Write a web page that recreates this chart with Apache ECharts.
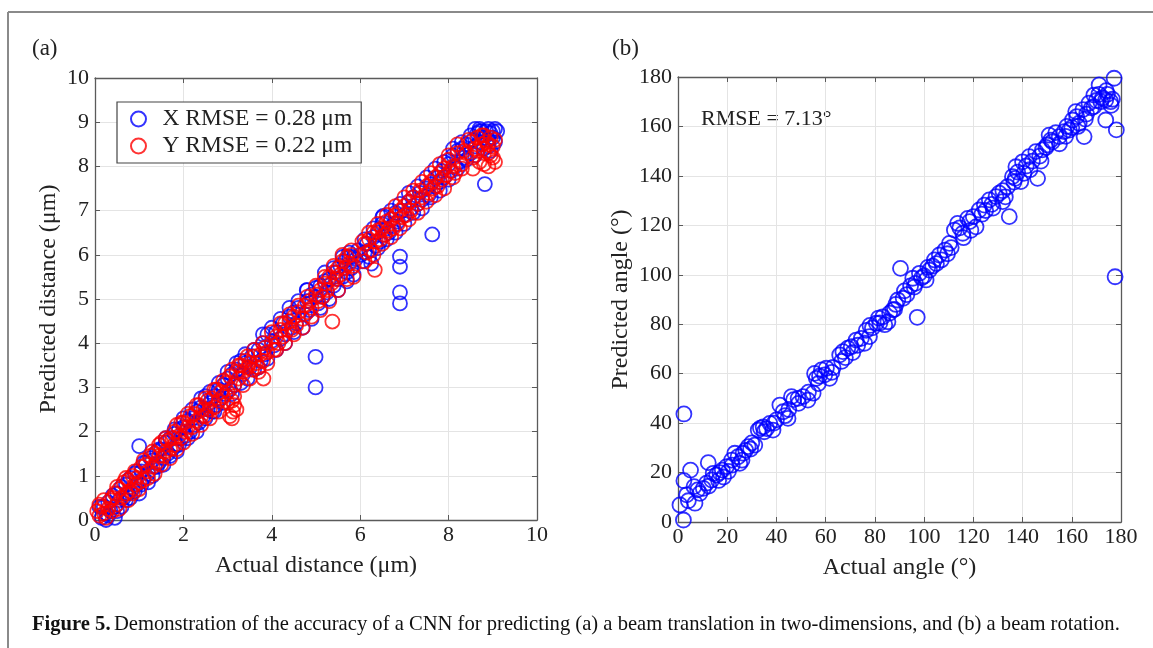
<!DOCTYPE html>
<html>
<head>
<meta charset="utf-8">
<script src="https://cdn.jsdelivr.net/npm/echarts@6/dist/echarts.min.js"></script>
<style>
html,body{margin:0;padding:0;background:#fff;}
#chart{width:1153px;height:648px;}
</style>
</head>
<body>
<div id="chart"></div>
<script>
// ---- Panel (a): actual vs predicted distance (µm) ----
const distX = [
[0.15,0.05],[0.2,0.3],[0.25,0.15],[0.3,0.4],[0.35,0.2],[0.4,0.55],[0.45,0.3],[0.5,0.6],[0.55,0.45],[0.6,0.75],[0.65,0.5],[0.7,0.8],[0.75,0.6],[0.8,0.95],[0.85,0.7],[0.9,1.05],[0.95,0.8],[1.0,1.67],[1.0,0.6],[1.05,1.1],[1.1,0.95],[1.15,1.3],[1.2,1.05],[1.3,1.35],[1.35,1.2],[1.4,1.55],[1.45,1.3],[1.5,1.6],[1.55,1.4],[1.6,1.75],[1.65,1.5],[1.7,1.85],[1.75,1.6],[1.8,1.95],[1.85,1.7],[1.9,2.05],[1.95,1.85],[2.0,2.1],[2.05,1.9],[2.1,2.25],[2.15,2.0],[2.2,2.3],[2.25,2.15],[2.3,2.45],[2.35,2.2],[2.4,2.55],[2.45,2.35],[2.5,2.8],[2.55,2.5],[2.6,2.65],[2.65,2.45],[2.7,2.8],[2.75,2.6],[2.8,2.95],[2.85,2.75],[2.9,3.05],[2.95,2.85],[3.0,3.2],[3.05,2.95],[3.1,3.3],[3.15,3.05],[3.2,3.4],[3.3,3.6],[3.35,3.3],[3.4,3.55],[3.5,3.45],[3.55,3.7],[3.6,3.4],[3.7,3.85],[3.75,3.6],[3.8,4.0],[3.85,3.75],[3.9,4.2],[4.0,4.05],[4.05,3.95],[4.1,4.25],[4.2,4.1],[4.25,4.45],[4.3,4.2],[4.4,4.6],[4.45,4.35],[4.5,4.7],[4.55,4.45],[4.6,4.8],[4.79,5.2],[4.75,4.65],[4.8,4.95],[4.85,4.75],[4.9,5.1],[4.99,3.69],[4.99,3.0],[5.0,5.05],[5.05,4.9],[5.1,5.3],[5.15,5.05],[5.2,5.4],[5.25,5.15],[5.3,5.45],[5.4,5.3],[5.45,5.6],[5.5,5.45],[5.55,5.75],[5.6,5.5],[5.65,5.85],[5.7,5.6],[5.75,5.95],[5.8,5.7],[5.85,5.95],[5.9,5.9],[6.0,6.0],[6.1,6.05],[6.15,6.25],[6.2,5.95],[6.3,6.4],[6.35,6.2],[6.4,6.5],[6.45,6.3],[6.5,6.7],[6.52,6.88],[6.55,6.45],[6.6,6.6],[6.65,6.5],[6.7,6.8],[6.75,6.65],[6.8,6.95],[6.85,6.75],[6.9,5.96],[6.9,5.73],[6.9,5.15],[6.9,4.9],[6.95,7.0],[7.0,6.9],[7.1,7.2],[7.15,7.05],[7.2,7.3],[7.3,7.15],[7.35,7.4],[7.4,7.25],[7.5,7.5],[7.55,7.35],[7.63,6.46],[7.6,7.6],[7.7,7.55],[7.75,7.75],[7.8,7.65],[7.85,7.9],[7.9,7.75],[8.0,8.05],[8.05,7.9],[8.1,8.25],[8.15,8.0],[8.2,8.35],[8.25,8.1],[8.3,8.4],[8.35,8.2],[8.4,8.5],[8.5,8.3],[8.55,8.6],[8.6,8.45],[8.65,8.75],[8.7,8.55],[8.75,8.8],[8.8,8.65],[8.82,7.6],[8.85,8.8],[8.9,8.6],[8.95,8.75],[9.0,8.8],[9.05,8.55],[9.1,8.8],[8.9,8.45],[8.7,8.8],
[0.1,0.3],[0.25,0.0],[0.3,0.1],[0.45,0.05],[0.5,0.2],[0.6,0.3],[0.7,0.45],[0.75,0.9],[0.8,0.5],[0.9,0.65],[0.95,1.1],[1.05,0.8],[1.1,1.3],[1.2,0.85],[1.25,1.4],[1.3,1.0],[1.4,1.2],[1.45,1.6],[1.55,1.25],[1.6,1.85],[1.7,1.45],[1.8,2.05],[1.85,1.55],[1.9,1.7],[2.0,2.3],[2.1,1.85],[2.2,2.5],[2.3,2.0],[2.4,2.75],[2.5,2.3],[2.6,2.9],[2.7,2.45],[2.8,3.1],[2.9,2.65],[3.0,3.35],[3.1,2.85],[3.2,3.55],[3.3,3.1],[3.4,3.75],[3.45,3.2],[3.6,3.85],[3.7,3.45],[3.8,4.2],[3.9,3.65],[4.0,4.35],[4.1,3.85],[4.2,4.55],[4.3,4.0],[4.4,4.8],[4.5,4.25],[4.6,4.95],[4.7,4.35],[4.8,5.2],[4.9,4.55],[5.0,5.25],[5.1,4.8],[5.2,5.6],[5.3,5.0],[5.4,5.7],[5.5,5.2],[5.6,5.95],[5.7,5.4],[5.75,6.05],[5.85,5.55],[5.95,6.1],[6.05,5.85],[6.1,6.35],[6.2,6.1],[6.25,5.8],[6.3,6.6],[6.4,6.15],[6.5,6.85],[6.6,6.35],[6.7,7.0],[6.8,6.5],[6.9,7.15],[7.0,6.7],[7.1,7.4],[7.2,6.95],[7.3,7.55],[7.4,7.05],[7.5,7.75],[7.6,7.3],[7.7,7.95],[7.8,7.45],[7.9,8.1],[8.0,7.7],[8.1,8.4],[8.2,7.95],[8.3,8.55],[8.4,8.15],[8.5,8.7],[8.6,8.25],[8.7,8.85],[8.8,8.4],[8.9,8.85],[9.0,8.65],[9.05,8.85],[8.95,8.35],[8.6,8.85]
];
const distY = [
[0.05,0.2],[0.1,0.1],[0.15,0.3],[0.2,0.15],[0.3,0.25],[0.35,0.45],[0.4,0.2],[0.45,0.6],[0.5,0.35],[0.55,0.7],[0.6,0.5],[0.65,0.85],[0.7,0.6],[0.75,0.9],[0.8,0.65],[0.85,1.0],[0.9,0.8],[0.95,0.95],[1.0,0.85],[1.05,1.2],[1.1,0.9],[1.15,1.25],[1.2,1.1],[1.25,1.45],[1.3,1.2],[1.35,1.5],[1.4,1.3],[1.45,1.45],[1.5,1.75],[1.55,1.45],[1.6,1.55],[1.65,1.8],[1.7,1.6],[1.75,1.85],[1.8,1.7],[1.85,2.15],[1.9,1.9],[1.95,1.85],[2.0,2.2],[2.05,2.0],[2.1,2.1],[2.15,2.35],[2.2,2.1],[2.25,2.4],[2.3,2.25],[2.35,2.6],[2.4,2.35],[2.45,2.5],[2.5,2.35],[2.55,2.7],[2.6,2.5],[2.65,2.75],[2.7,2.55],[2.75,2.95],[2.8,2.7],[2.85,2.9],[2.9,2.8],[2.95,3.1],[3.0,2.9],[3.05,3.25],[3.1,2.3],[3.12,2.45],[3.15,2.6],[3.1,2.7],[3.05,2.35],[3.15,3.05],[3.2,3.35],[3.25,3.2],[3.3,3.5],[3.35,3.35],[3.4,3.6],[3.45,3.45],[3.5,3.55],[3.55,3.4],[3.6,3.7],[3.65,3.55],[3.7,3.35],[3.75,3.75],[3.8,3.6],[3.81,3.2],[3.85,3.9],[3.9,3.8],[4.0,4.0],[4.05,3.85],[4.1,4.15],[4.15,4.0],[4.2,4.3],[4.25,4.15],[4.3,4.45],[4.35,4.3],[4.4,4.5],[4.45,4.3],[4.5,4.6],[4.55,4.4],[4.6,4.7],[4.7,4.55],[4.75,4.85],[4.8,4.7],[4.85,4.95],[4.9,4.8],[5.0,5.1],[5.05,4.95],[5.1,5.2],[5.15,5.05],[5.2,5.35],[5.25,5.2],[5.3,5.5],[5.37,4.49],[5.35,5.35],[5.4,5.6],[5.45,5.45],[5.5,5.7],[5.55,5.55],[5.6,5.85],[5.65,5.7],[5.7,5.95],[5.75,5.8],[5.8,6.0],[5.85,5.75],[6.1,6.25],[6.15,6.05],[6.2,6.35],[6.25,6.1],[6.3,6.5],[6.33,5.66],[6.35,6.3],[6.4,6.55],[6.45,6.35],[6.5,6.6],[6.55,6.45],[6.6,6.75],[6.65,6.55],[6.7,6.8],[6.75,6.6],[6.8,6.9],[6.85,6.7],[6.9,7.0],[6.95,6.85],[7.0,7.1],[7.05,6.9],[7.1,7.2],[7.15,7.0],[7.2,7.3],[7.3,7.15],[7.35,7.45],[7.4,7.3],[7.5,7.55],[7.55,7.4],[7.6,7.65],[7.65,7.5],[7.7,7.75],[7.75,7.55],[7.8,7.85],[7.85,7.7],[7.9,7.95],[7.95,7.8],[8.0,8.15],[8.05,7.9],[8.1,8.0],[8.15,7.85],[8.2,8.3],[8.3,8.05],[8.35,8.35],[8.5,8.55],[8.55,8.2],[8.6,8.4],[8.65,8.65],[8.7,8.1],[8.75,8.5],[8.8,8.3],[8.85,8.55],[8.9,8.0],[8.95,8.25],[9.0,8.45],[9.05,8.1],[8.95,8.65],[8.8,8.7],
[0.1,0.35],[0.2,0.45],[0.25,0.05],[0.4,0.5],[0.5,0.75],[0.55,0.25],[0.7,0.95],[0.75,0.45],[0.85,0.6],[0.9,1.1],[1.0,0.7],[1.1,1.35],[1.2,0.95],[1.3,1.55],[1.35,1.05],[1.45,1.7],[1.5,1.25],[1.6,1.85],[1.7,1.4],[1.8,2.0],[1.85,1.6],[1.95,2.2],[2.0,1.75],[2.1,2.4],[2.2,1.95],[2.3,2.6],[2.4,2.15],[2.5,2.75],[2.6,2.3],[2.7,2.95],[2.8,2.45],[2.9,3.15],[3.0,2.65],[3.1,3.4],[3.15,2.8],[3.2,2.5],[3.25,3.5],[3.35,3.05],[3.45,3.7],[3.5,3.2],[3.6,3.85],[3.7,3.45],[3.8,4.0],[3.9,3.55],[4.0,4.25],[4.1,3.85],[4.2,4.45],[4.3,4.0],[4.4,4.65],[4.5,4.2],[4.6,4.85],[4.7,4.35],[4.8,5.05],[4.9,4.6],[5.0,5.3],[5.1,4.75],[5.2,5.5],[5.3,4.95],[5.4,5.75],[5.5,5.2],[5.6,6.0],[5.7,5.45],[5.8,6.1],[5.85,5.5],[6.05,6.3],[6.1,5.85],[6.2,6.5],[6.3,6.0],[6.4,6.7],[6.5,6.25],[6.6,6.9],[6.7,6.4],[6.8,7.1],[6.9,6.6],[7.0,7.3],[7.1,6.8],[7.2,7.45],[7.3,6.95],[7.4,7.65],[7.5,7.2],[7.6,7.85],[7.7,7.35],[7.8,8.05],[7.9,7.5],[8.0,8.25],[8.1,7.75],[8.2,8.5],[8.3,7.95],[8.4,8.3],[8.45,8.6],[8.55,7.95],[8.65,8.35],[8.75,8.7],[8.8,8.05],[8.9,8.5],[9.0,8.2],[9.05,8.6],[8.9,8.3]
];
// ---- Panel (b): actual vs predicted angle (°) ----
const angle = [
[2.2,0.8],[0.8,6.9],[2.4,43.7],[2.4,16.7],[5.1,21],[4.2,8.6],[3.5,11],[6.5,14.3],[6.9,7.6],[8.9,11.6],[8,13],[10.3,13.6],[12.3,24],[11.6,15.7],[13.7,17],[12.5,14.5],[15.7,19],[14.3,19.7],[16.5,16.8],[17,20],[18.5,18.2],[19.7,22.4],[20.5,20.5],[21.8,25],[23.1,27.8],[25.1,23.7],[24.4,26.4],[26.5,27.8],[27.5,29],[28.5,30.5],[29.5,29.5],[31.2,31.1],[32.6,37.2],[33.5,38],[34.6,38.5],[36,37.8],[37.3,39.9],[38.6,37.2],[40,41.3],[41.4,47.3],[42.7,44.6],[43.5,43],[44.7,41.9],[46.1,50.7],[47,49.5],[48.8,50],[50.8,50.7],[52.8,49.3],[54.9,52.1],[55.5,60.1],[56.2,58.1],[57,56],[58.3,61.5],[60.3,62.2],[61.6,58.1],[59.6,59.5],[62.5,60.5],[65.7,67.6],[67,68.9],[68,66.5],[69,70.3],[70.4,70.9],[71,68.5],[72.4,73.6],[74.5,74.3],[75.8,72.3],[76.5,77.5],[77.8,75],[79,78.5],[80.6,80.4],[81.5,82.5],[83.2,83],[84,79.8],[85.3,81],[86,84.5],[87.3,85.8],[88.5,88],[89.3,89.8],[90.4,102.6],[91.5,90.5],[93,92],[94.5,95.5],[95.4,98.6],[96.5,96.5],[97.2,82.8],[98.1,100.6],[99,98.8],[100.8,97.9],[102.2,101.9],[103.5,103.5],[104.2,106],[105,104.5],[106.2,108],[108.5,110],[110.3,112.7],[111,111],[112.3,118.1],[113.6,120.8],[114.5,119],[115.7,116.8],[117.7,122.8],[118.5,121.5],[120,123.5],[121.1,119.4],[122.4,126.2],[123.5,124.5],[124.5,128.2],[126.5,130.3],[127.5,128.5],[129.2,131.6],[130.5,133],[131.9,129.6],[133,131.5],[134.6,123.5],[133.9,135.6],[135.9,139.7],[136.5,137.5],[137.3,143.7],[138,141.5],[139.3,137.7],[140,145.7],[141.5,144],[142.7,147.8],[144,146],[145.4,149.8],[146.1,139],[147,148],[148.1,150.5],[149.5,151.5],[150.8,156.5],[151.5,154.5],[152.1,153.8],[153.5,157.5],[154.9,155.9],[156.9,157.9],[158,160],[159,158.5],[160.3,162.6],[161.6,166],[162,164],[163,161.3],[165,155.9],[164.5,166.8],[166,165],[167,169.4],[168,167.5],[169,172.7],[170,170.5],[171.1,176.8],[171.8,170],[172.5,171.5],[173.8,170.7],[174.5,173],[175.8,170],[173.8,162.6],[177.2,179.5],[178.1,158.6],[177.6,99.2],[176.5,171],
[18,21],[22,23],[26,25],[30,32],[35,36.5],[39,40],[45,45.5],[49,48],[53,52.5],[57.5,59],[63,62.5],[66.5,65],[73,71.5],[78,79.5],[82,80.5],[88,86],[92,93.5],[96,95],[100,99.5],[101.5,103],[107,106],[109.5,108.5],[116,115],[119,118],[125,126],[128,127],[132,134],[137,139],[140.5,141],[143,142.5],[147.5,146],[150,152.5],[155,153],[157.5,156],[160,159.5],[162.5,160],[165.5,163],[169,168],[171,173],[174,174.5],[176,168.5]
];
const distTicks = [0,2,4,6,8,10];
const angleTicks = [0,20,40,60,80,100,120,140,160,180];
const legendNames = ['X RMSE = 0.28 \u03bcm','Y RMSE = 0.22 \u03bcm'];
const rmseAngleText = 'RMSE = 7.13\u00b0';

const FONT = 'Liberation Serif';
const BOX = '#5a5a5a';
const GRIDC = '#e4e4e4';
const BLUE = '#0000ff';
const RED = '#ff0000';

function mainX(grid, min, max, interval, name, gap){
  return {gridIndex:grid, type:'value', min:min, max:max, interval:interval, name:name,
    nameLocation:'middle', nameGap:gap,
    nameTextStyle:{fontFamily:FONT, fontSize:24, color:'#222'},
    axisLine:{show:true, onZero:false, lineStyle:{color:BOX, width:1.3}},
    axisTick:{show:true, inside:true, length:5, lineStyle:{color:BOX}},
    axisLabel:{fontFamily:FONT, fontSize:22, color:'#222', margin:4},
    splitLine:{show:true, lineStyle:{color:GRIDC, width:1}}};
}
function mainY(grid, min, max, interval, name, gap){
  return {gridIndex:grid, type:'value', min:min, max:max, interval:interval, name:name,
    nameLocation:'middle', nameGap:gap,
    nameTextStyle:{fontFamily:FONT, fontSize:24, color:'#222'},
    axisLine:{show:true, onZero:false, lineStyle:{color:BOX, width:1.3}},
    axisTick:{show:true, inside:true, length:5, lineStyle:{color:BOX}},
    axisLabel:{fontFamily:FONT, fontSize:22, color:'#222', margin:6},
    splitLine:{show:true, lineStyle:{color:GRIDC, width:1}}};
}
function sideAxis(grid, min, max, interval, pos){
  return {gridIndex:grid, type:'value', min:min, max:max, interval:interval, position:pos,
    axisLine:{show:true, onZero:false, lineStyle:{color:BOX, width:1.3}},
    axisTick:{show:true, inside:true, length:5, lineStyle:{color:BOX}},
    axisLabel:{show:false}, splitLine:{show:false}};
}
function ring(color){
  return {color:'rgba(255,255,255,0)', borderColor:color, borderWidth:1.8};
}

const option = {
  animation:false,
  backgroundColor:'#fff',
  grid:[
    {left:95, top:78, width:442, height:442},
    {left:678, top:77, width:443, height:445}
  ],
  xAxis:[
    mainX(0, distTicks[0], distTicks[distTicks.length-1], 2, 'Actual distance (\u03bcm)', 34),
    mainX(1, angleTicks[0], angleTicks[angleTicks.length-1], 20, 'Actual angle (\u00b0)', 34),
    sideAxis(0, 0, 10, 2, 'top'),
    sideAxis(1, 0, 180, 20, 'top')
  ],
  yAxis:[
    mainY(0, 0, 10, 1, 'Predicted distance (\u03bcm)', 34),
    mainY(1, 0, 180, 20, 'Predicted angle (\u00b0)', 45),
    sideAxis(0, 0, 10, 1, 'right'),
    sideAxis(1, 0, 180, 20, 'right')
  ],
  legend:{
    data:legendNames, orient:'vertical', left:117, top:102,
    borderColor:'#444', borderWidth:1.2, borderRadius:0, backgroundColor:'#fff',
    padding:[5,9,5,13], itemWidth:38, itemHeight:15, itemGap:3,
    textStyle:{fontFamily:FONT, fontSize:23.5, color:'#222', lineHeight:21}
  },
  series:[
    {name:legendNames[0], type:'scatter', xAxisIndex:0, yAxisIndex:0, data:distX, symbol:'circle',
     symbolSize:14, clip:false, itemStyle:ring(BLUE)},
    {name:legendNames[1], type:'scatter', xAxisIndex:0, yAxisIndex:0, data:distY, symbol:'circle',
     symbolSize:14, clip:false, itemStyle:ring(RED)},
    {name:'angle', type:'scatter', xAxisIndex:1, yAxisIndex:1, data:angle, symbol:'circle',
     symbolSize:15, clip:false, itemStyle:ring(BLUE)}
  ],
  graphic:[
    {type:'line', shape:{x1:8, y1:12, x2:1153, y2:12}, style:{stroke:'#8a8a8a', lineWidth:2}},
    {type:'line', shape:{x1:8, y1:12, x2:8, y2:648}, style:{stroke:'#8a8a8a', lineWidth:2}},
    {type:'text', left:32, top:37, style:{text:'(a)', font:'23px "Liberation Serif"', fill:'#222'}},
    {type:'text', left:612, top:37, style:{text:'(b)', font:'23px "Liberation Serif"', fill:'#222'}},
    {type:'text', left:701, top:108, style:{text:rmseAngleText, font:'22px "Liberation Serif"', fill:'#222'}},
    {type:'text', left:32, top:614, style:{
      rich:{b:{fontFamily:FONT, fontWeight:'bold', fontSize:20.6, fill:'#111'}, n:{fontFamily:FONT, fontSize:20.6, fill:'#111'}},
      text:'{b|Figure 5.} {n|Demonstration of the accuracy of a CNN for predicting (a) a beam translation in two-dimensions, and (b) a beam rotation.}'
    }}
  ]
};
const chart = echarts.init(document.getElementById('chart'), null, {renderer:'canvas'});
chart.setOption(option);
</script>
</body>
</html>
